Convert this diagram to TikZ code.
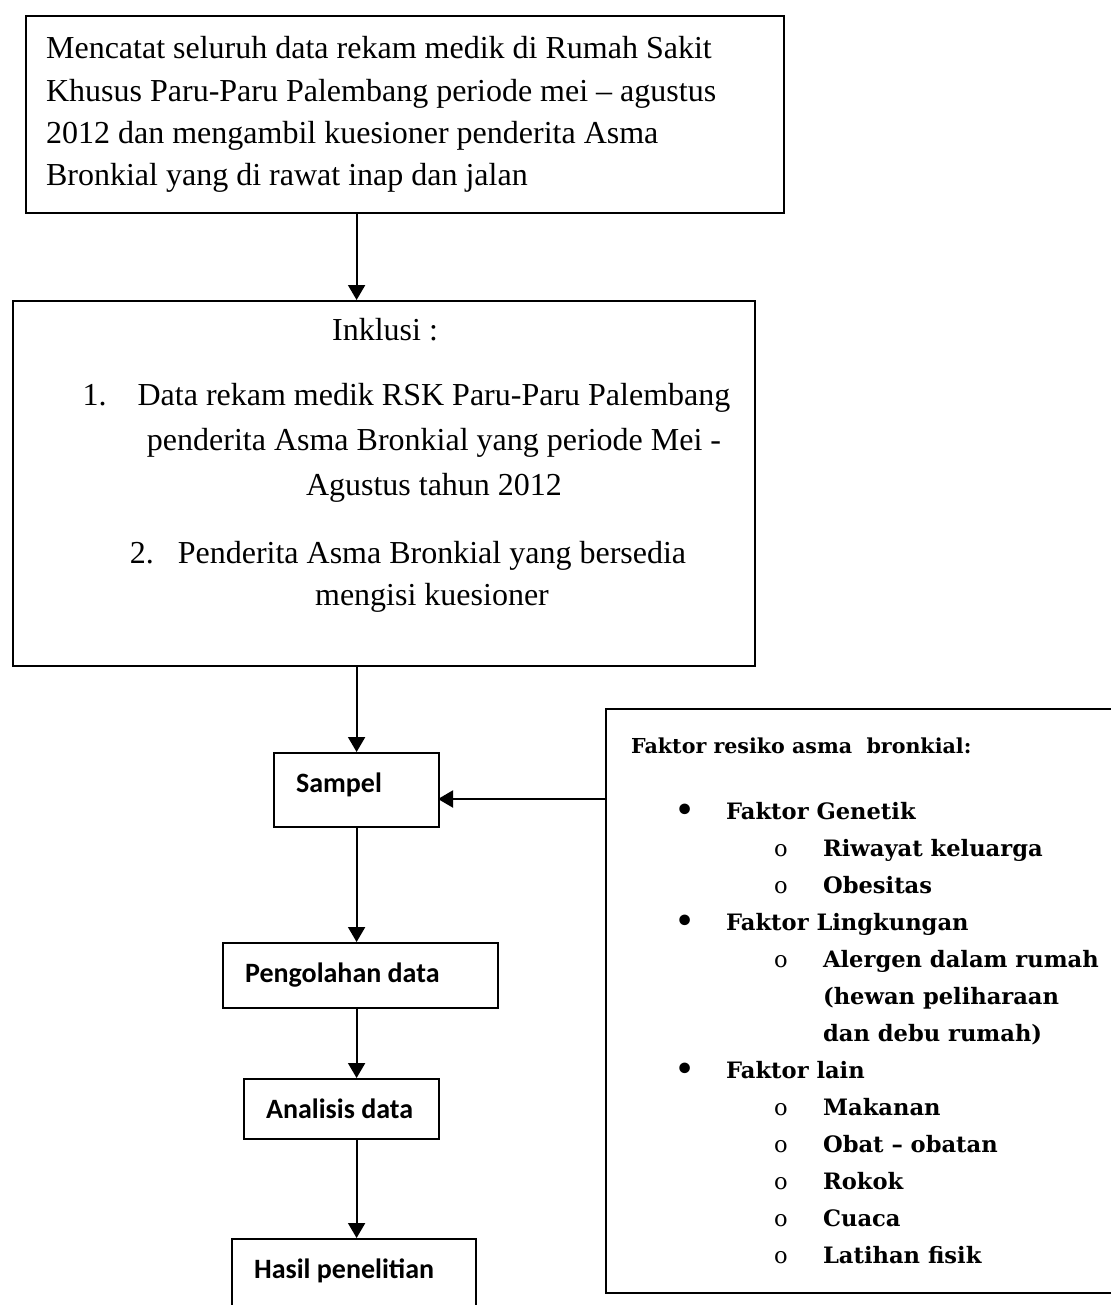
\documentclass[tikz,border=0pt]{standalone}
\usepackage{fontspec}
\setmainfont{Liberation Serif}
\newfontfamily\carlito{Carlito}
\newfontfamily\djserif{DejaVu Serif}
\usetikzlibrary{arrows.meta}

\tikzset{
  kotak/.style={draw, line width=1.1pt},
  proses/.style={kotak, anchor=north west, align=flush left, inner xsep=11pt, inner ysep=0pt,
    text height=19.5pt, font=\carlito\bfseries\fontsize{14}{17}\selectfont},
  panah/.style={line width=1pt, -{Triangle[length=7.5pt,width=8.5pt]}},
}
\newcommand{\poinA}[1]{\hspace*{22pt}\makebox[25.5pt][l]{\raisebox{-0.5pt}{\fontsize{15}{15}\selectfont\textbullet}}#1}
\newcommand{\poinB}[1]{\hspace*{71.5pt}\makebox[24.5pt][l]{\mdseries o}#1}
\newcommand{\lanjut}[1]{\hspace*{96pt}#1}

\begin{document}
\begin{tikzpicture}[x=0.5pt,y=-0.5pt]
		\useasboundingbox (0,0) rectangle (1111,1305);
		
		\node[kotak, anchor=north west, text width=359pt, inner xsep=10pt, minimum height=98.5pt,
		  align=flush left, font=\fontsize{16}{21.2}\selectfont] (catat) at (25,15)
		  {Mencatat seluruh data rekam medik di Rumah Sakit\\
		   Khusus Paru-Paru Palembang periode mei – agustus\\
		   2012 dan mengambil kuesioner penderita Asma\\
		   Bronkial yang di rawat inap dan jalan};
		
		\node[kotak, anchor=north west, minimum width=371pt, minimum height=182.5pt] (inklusi) at (12,300) {};
		\node[anchor=base, font=\fontsize{16}{21.5}\selectfont] (judul) at (385,340) {Inklusi :};
		\node[anchor=base, align=center, font=\fontsize{16}{22.5}\selectfont] (syarat1) at (434,495)
		  {\llap{\makebox[27.5pt][l]{1.}}Data rekam medik RSK Paru-Paru Palembang\\
		   penderita Asma Bronkial yang periode Mei -\\
		   Agustus tahun 2012};
		\node[anchor=base, align=center, font=\fontsize{16}{21}\selectfont] (syarat2) at (432,605)
		  {\llap{\makebox[24pt][l]{2.}}Penderita Asma Bronkial yang bersedia\\
		   mengisi kuesioner};
		
		\node[proses, text width=60.5pt, text depth=17.5pt] (sampel) at (273,752) {Sampel};
		\node[proses, text width=115.5pt, text depth=13pt] (olah) at (222,942) {Pengolahan data};
		\node[proses, text width=75.5pt, text depth=10.5pt] (analisis) at (243,1078) {Analisis data};
		\node[proses, text width=100pt, text depth=20pt] (hasil) at (231,1238) {Hasil penelitian};
		
		\node[kotak, anchor=north west, text width=250pt, inner xsep=12.5pt, minimum height=292pt,
		  align=flush left, font=\djserif\bfseries\fontsize{11.3}{18.5}\selectfont] (faktor) at (605,708)
		  {{\fontsize{10.3}{18.5}\selectfont Faktor resiko asma\ \ bronkial:}\\[14.5pt]
		   \poinA{Faktor Genetik}\\
		   \poinB{Riwayat keluarga}\\
		   \poinB{Obesitas}\\
		   \poinA{Faktor Lingkungan}\\
		   \poinB{Alergen dalam rumah}\\
		   \lanjut{(hewan peliharaan}\\
		   \lanjut{dan debu rumah)}\\
		   \poinA{Faktor lain}\\
		   \poinB{Makanan}\\
		   \poinB{Obat – obatan}\\
		   \poinB{Rokok}\\
		   \poinB{Cuaca}\\
		   \poinB{Latihan fisik}};
		\coordinate (masuk) at (438,799);
		
		\draw[panah] (catat.south -| sampel.north) -- (inklusi.north -| sampel.north);
		\draw[panah] (inklusi.south -| sampel.north) -- (sampel.north);
		\draw[panah] (sampel.south) -- (sampel.south |- olah.north);
		\draw[panah] (olah.south -| sampel.south) -- (sampel.south |- analisis.north);
		\draw[panah] (analisis.south -| sampel.south) -- (sampel.south |- hasil.north);
		\draw[panah] (faktor.west |- masuk) -- (masuk);
		\end{tikzpicture}
\end{document}
